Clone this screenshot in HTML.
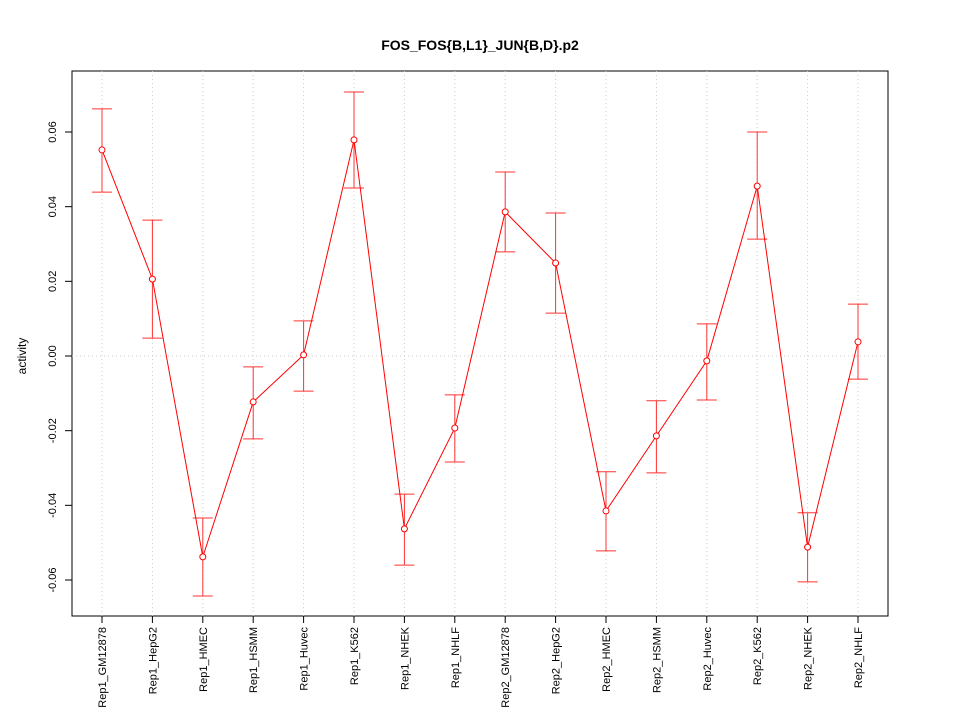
<!DOCTYPE html>
<html><head><meta charset="utf-8"><style>
body{margin:0;background:#fff}
svg{display:block;font-family:"Liberation Sans",sans-serif}
</style></head><body>
<svg id="chart" width="960" height="720" viewBox="0 0 960 720">
<rect width="960" height="720" fill="#fff"/>
<text x="480" y="50" text-anchor="middle" font-size="14" font-weight="bold">FOS_FOS{B,L1}_JUN{B,D}.p2</text>
<text transform="translate(26,356) rotate(-90)" text-anchor="middle" font-size="12">activity</text>
<rect x="72" y="71" width="816" height="545" fill="none" stroke="#000"/>
<g id="g"></g>
</svg>
<script>
const categories=["Rep1_GM12878","Rep1_HepG2","Rep1_HMEC","Rep1_HSMM","Rep1_Huvec","Rep1_K562","Rep1_NHEK","Rep1_NHLF","Rep2_GM12878","Rep2_HepG2","Rep2_HMEC","Rep2_HSMM","Rep2_Huvec","Rep2_K562","Rep2_NHEK","Rep2_NHLF"];
const values=[0.0552,0.0206,-0.0538,-0.0123,0.0003,0.0579,-0.0463,-0.0193,0.0386,0.0249,-0.0415,-0.0214,-0.0013,0.0455,-0.0512,0.0038];
const upper=[0.0662,0.0364,-0.0434,-0.0029,0.0094,0.0707,-0.037,-0.0104,0.0493,0.0383,-0.031,-0.012,0.0086,0.06,-0.042,0.0139];
const lower=[0.0439,0.0048,-0.0643,-0.0222,-0.0094,0.045,-0.056,-0.0284,0.0279,0.0115,-0.0522,-0.0313,-0.0118,0.0313,-0.0605,-0.0062];
const yTicks=[-0.06,-0.04,-0.02,0,0.02,0.04,0.06];
const yTickLabels=["-0.06","-0.04","-0.02","0.00","0.02","0.04","0.06"];
const NS="http://www.w3.org/2000/svg";
const g=document.getElementById('g');
const x=i=>102+i*(858-102)/(categories.length-1);
const y=v=>356-v*3733.3;
function mk(t,a,p){const e=document.createElementNS(NS,t);for(const k in a)e.setAttribute(k,a[k]);(p||g).appendChild(e);return e;}
categories.forEach((c,i)=>{
 const gl=mk('line',{x1:x(i),x2:x(i),y1:71,y2:616,stroke:'#ccc','stroke-dasharray':'1,3'});
 
 
 const tk=mk('line',{x1:x(i),x2:x(i),y1:616,y2:623,stroke:'#000'});
 
 
 const t=mk('text',{transform:`translate(${x(i)+4},627) rotate(-90)`,'text-anchor':'end','font-size':'11'});
 t.textContent=c;
 
 
});
const hg=mk('line',{x1:72,x2:888,y1:y(0),y2:y(0),stroke:'#ccc','stroke-dasharray':'1,3'});


yTicks.forEach((v,i)=>{
 const tk=mk('line',{x1:65,x2:72,y1:y(v),y2:y(v),stroke:'#000'});
 
 
 const t=mk('text',{transform:`translate(56,${y(v)}) rotate(-90)`,'text-anchor':'middle','font-size':'11'});
 t.textContent=yTickLabels[i];
 
 
});
values.forEach((v,i)=>{
 const e=mk('path',{d:`M${x(i)},${y(lower[i])}V${y(upper[i])}M${x(i)-10},${y(upper[i])}H${x(i)+10}M${x(i)-10},${y(lower[i])}H${x(i)+10}`,stroke:'#f33',fill:'none'});
 
 
});
const ln=mk('polyline',{points:values.map((v,i)=>x(i)+','+y(v)).join(' '),fill:'none',stroke:'#f00'});


values.forEach((v,i)=>{
 const p=mk('circle',{cx:x(i),cy:y(v),r:3,fill:'#fff',stroke:'#f00'});
 
 
});
</script>
</body></html>
